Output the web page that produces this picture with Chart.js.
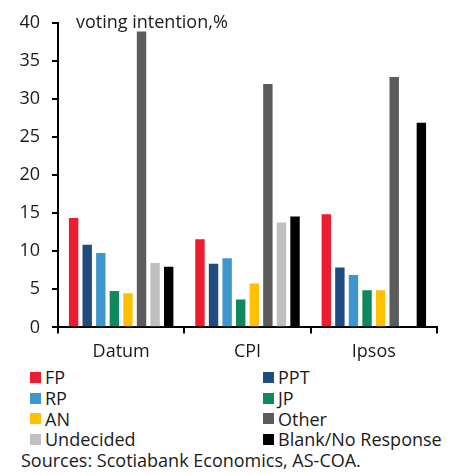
<!DOCTYPE html>
<html>
<head>
<meta charset="utf-8">
<script src="https://cdn.jsdelivr.net/npm/chart.js@4.4.1/dist/chart.umd.min.js"></script>
<style>
    body { margin: 0; background: #fff; font-family: 'Open Sans', sans-serif; color: #1a1a1a; }
    #wrap { position: relative; width: 459px; height: 371px; }
    .custom-legend {
        display: grid;
        grid-template-columns: 233px 200px;
        margin-left: 30px;
        margin-top: -4px;
    }
    .legend-item { display: flex; align-items: center; height: 20.7px; font-size: 18px; }
    .legend-item span.box { display: inline-block; width: 11px; height: 11px; margin-right: 4px; }
    .source { font-size: 18px; margin-left: 21px; margin-top: 0px; line-height: 20px; }
</style>
</head>
<body>
<div id="wrap"><canvas id="pollChart" width="459" height="371"></canvas></div>
<div class="custom-legend" id="legend"></div>
<div class="source">Sources: Scotiabank Economics, AS-COA.</div>
<script>
const pollsters = ['Datum', 'CPI', 'Ipsos'];
const fp = [14.5, 11.7, 15];
const ppt = [11, 8.5, 8];
const rp = [9.9, 9.2, 7];
const jp = [4.9, 3.8, 5];
const an = [4.6, 5.9, 5];
const other = [39, 32.1, 33];
const undecided = [8.6, 13.9, null];
const blank = [8.1, 14.7, 27];

const seriesNames = ['FP', 'PPT', 'RP', 'JP', 'AN', 'Other', 'Undecided', 'Blank/No Response'];
const seriesValues = [fp, ppt, rp, jp, an, other, undecided, blank];
const seriesColors = ['#ED1C2E', '#1F4B80', '#3D97CC', '#0F8860', '#FFC000', '#5B5B5B', '#BFBFBF', '#000000'];

const yTicks = [0, 5, 10, 15, 20, 25, 30, 35, 40];

const FONT = "'Open Sans', sans-serif";

// small caption drawn inside the plot, level with the top tick
const captionPlugin = {
    id: 'caption',
    afterDraw(chart) {
        const ctx = chart.ctx;
        const area = chart.chartArea;
        ctx.save();
        ctx.font = `18px ${FONT}`;
        ctx.fillStyle = '#1a1a1a';
        ctx.textBaseline = 'middle';
        ctx.fillText('voting intention,%', area.left + 18, chart.scales.y.getPixelForValue(40));
        ctx.restore();
    }
};

const datasets = seriesNames.map((name, i) => ({
    label: name,
    data: seriesValues[i],
    backgroundColor: seriesColors[i],
    borderColor: 'rgba(255,255,255,0.5)',
    borderWidth: 1,
    categoryPercentage: 0.86,
    barPercentage: 0.84
}));

new Chart(document.getElementById('pollChart'), {
    type: 'bar',
    data: { labels: pollsters, datasets },
    options: {
        responsive: false,
        animation: false,
        layout: { padding: { top: 6, right: 22, left: 0, bottom: 0 } },
        plugins: {
            legend: { display: false },
            tooltip: { enabled: false }
        },
        scales: {
            x: {
                grid: {
                    display: true,
                    offset: true,
                    drawOnChartArea: false,
                    drawTicks: true,
                    tickLength: 6,
                    color: '#000',
                    lineWidth: 2
                },
                border: { display: true, color: '#000', width: 2 },
                ticks: { color: '#1a1a1a', font: { family: FONT, size: 18 }, padding: 8 }
            },
            y: {
                min: 0,
                max: 40,
                afterFit(scale) { scale.width = 58; },
                afterBuildTicks(scale) { scale.ticks = yTicks.map(v => ({ value: v })); },
                grid: {
                    display: true,
                    drawOnChartArea: false,
                    drawTicks: true,
                    tickLength: 6,
                    color: '#000',
                    lineWidth: 2
                },
                border: { display: true, color: '#000', width: 2 },
                ticks: { color: '#1a1a1a', font: { family: FONT, size: 18 }, padding: 12 }
            }
        }
    },
    plugins: [captionPlugin]
});

// two-column legend below the canvas
const legendBox = document.getElementById('legend');
seriesNames.forEach((name, i) => {
    const item = document.createElement('div');
    item.className = 'legend-item';
    const box = document.createElement('span');
    box.className = 'box';
    box.style.background = seriesColors[i];
    const text = document.createElement('span');
    text.innerText = name;
    item.appendChild(box);
    item.appendChild(text);
    legendBox.appendChild(item);
});
</script>
</body>
</html>
